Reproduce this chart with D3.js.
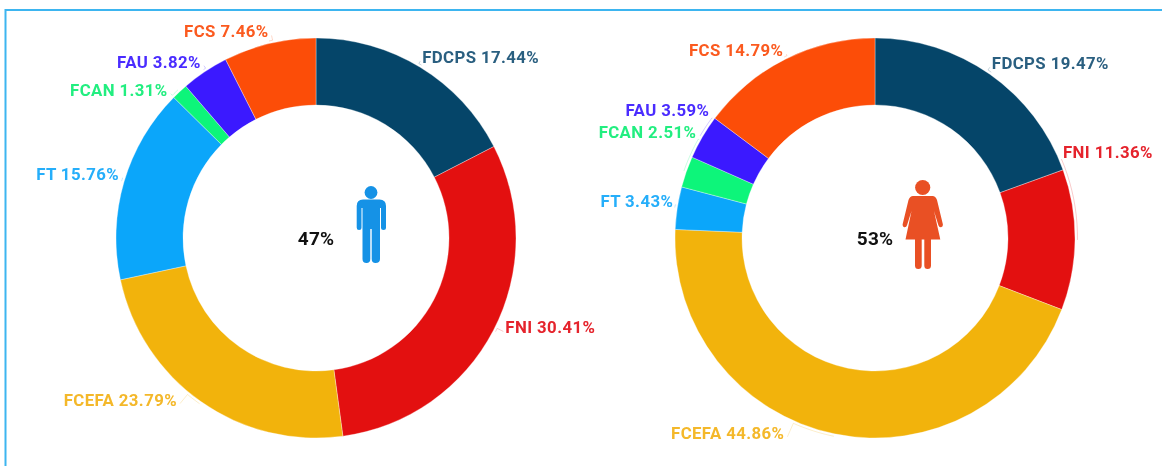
<!DOCTYPE html>
<html>
<head>
<meta charset="utf-8">
<script src="https://cdn.jsdelivr.net/npm/d3@7"></script>
<style>
html,body{margin:0;padding:0;background:#fff;overflow:hidden}
text{font-family:Roboto,sans-serif;font-weight:700;filter:blur(.35px)}
.icon{filter:blur(.4px)}
</style>
</head>
<body>
<svg id="chart" width="1162" height="466"></svg>
<script>
const categories = ["FDCPS","FNI","FCEFA","FT","FCAN","FAU","FCS"];
const colors = ["#054569","#e31010","#f2b30c","#0ba6fa","#0df57a","#3b19ff","#fc4d08"];
const labelColors = ["#2a5f80","#e5232c","#f4b82a","#25aefa","#22ee80","#4a2cff","#fb5a1f"];
const maleValues = [17.44,30.41,23.79,15.76,1.31,3.82,7.46];
const femaleValues = [19.47,11.36,44.86,3.43,2.51,3.59,14.79];
const maleShare = "47%";
const femaleShare = "53%";
// label offsets from the slice's outer mid-point
const maleNudgeX = [2,12,-24,-5,-12,-4,-1];
const maleNudgeY = [-10,-3,-2,-8,-2,-10,-12];
const femaleNudgeX = [2,-12,-50,-4,10,7,-2];
const femaleNudgeY = [-11,-88,-1,-7,-40,-27,-9];

const svg = d3.select("#chart");
svg.append("path")
  .attr("d","M1162,10H5.5V466")
  .attr("fill","none").attr("stroke","#3db5f0").attr("stroke-width",2);

const outerR = 200, innerR = 133;
const pie = d3.pie().sort(null).value(d=>d);
const arc = d3.arc().innerRadius(innerR).outerRadius(outerR);
const polar = (a,r)=>[Math.sin(a)*r,-Math.cos(a)*r];

function donut(cx,cy,values,nx,ny,share){
  const g = svg.append("g").attr("transform",`translate(${cx},${cy})`);
  const arcs = pie(values);
  g.selectAll("path.slice").data(arcs).join("path")
    .attr("class","slice")
    .attr("d",arc)
    .attr("fill",(d,i)=>colors[i])
    .attr("stroke","#fff").attr("stroke-opacity",.55).attr("stroke-width",.6);

  arcs.forEach((d,i)=>{
    const mid = (d.startAngle+d.endAngle)/2;
    const [px,py] = polar(mid,outerR);
    const x = px+nx[i], y = py+ny[i];
    const right = mid < Math.PI;
    g.append("text")
      .attr("x",x).attr("y",y).attr("dy",".35em")
      .attr("text-anchor",right?"start":"end")
      .attr("font-size",16.8)
      .attr("letter-spacing",.4)
      .attr("fill",labelColors[i])
      .text(`${categories[i]} ${values[i].toFixed(2)}%`);
    // leader: hugs the ring, then runs to the label
    const ax = x+(right?-2:3), ay = y+(Math.abs(ny[i])>20?8:4);
    let end = Math.atan2(ax,-ay); if(end<0) end+=2*Math.PI;
    const steps = d3.range(0,1.001,.1).map(s=>polar(mid+(end-mid)*s,outerR+2.5));
    g.append("path")
      .attr("d",d3.line().curve(d3.curveLinear)([...steps,[ax,ay]]))
      .attr("fill","none").attr("stroke",colors[i]).attr("stroke-opacity",.22).attr("stroke-width",1);
  });

  g.append("text").attr("text-anchor","middle").attr("dy",".35em")
    .attr("font-size",19).attr("letter-spacing",.2).attr("fill","#111").text(share);
}
donut(316,238,maleValues,maleNudgeX,maleNudgeY,maleShare);
donut(875,238,femaleValues,femaleNudgeX,femaleNudgeY,femaleShare);

// Man icon
const man = svg.append("g").attr("class","icon").attr("fill","#1592e6");
man.append("circle").attr("cx",371).attr("cy",192.5).attr("r",6.4);
man.append("path").attr("d","M363,199.5H379.5Q386,199.5 386,206V227.5Q386,230 383.5,230Q381,230 381,227.5V208H380V259Q380,263 375.5,263Q371.7,263 371.7,259V229H370.3V259Q370.3,263 366.5,263Q362.5,263 362.5,259V208H361.5V227.5Q361.5,230 359,230Q356.7,230 356.7,227.5V206Q356.7,199.5 363,199.5Z");
// Woman icon
const woman = svg.append("g").attr("class","icon").attr("fill","#e95024");
woman.append("circle").attr("cx",922.7).attr("cy",187.5).attr("r",7.6);
woman.append("path").attr("d","M913,196H932.5Q935.5,196 937,200L942.8,224Q943.3,227 941,227.3Q939,227.5 938.4,225.3L934,211L940.3,239.5H931V265.5Q931,269 927.6,269Q924.3,269 924.3,265.5V239.5H921.7V265.5Q921.7,269 918.3,269Q915,269 915,265.5V239.5H905.5L911.5,211L907,225.3Q906.4,227.5 904.4,227.3Q902.2,227 902.7,224L908.5,200Q910,196 913,196Z");
</script>
</body>
</html>
